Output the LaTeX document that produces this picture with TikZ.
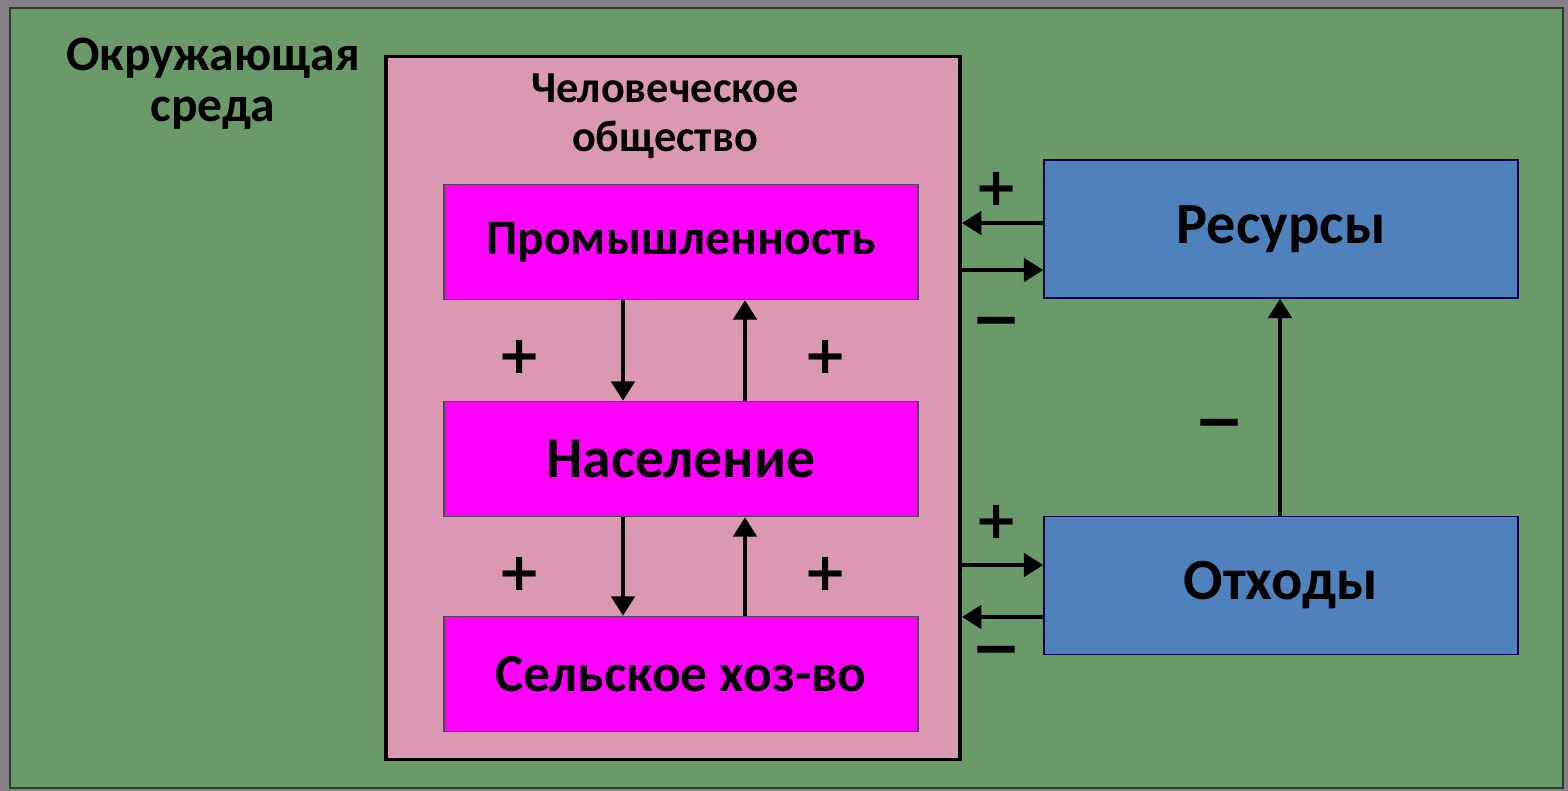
\documentclass[tikz,border=0pt]{standalone}
\usepackage{fontspec}
\setmainfont{Carlito}
\newfontfamily\znakfont{DejaVu Sans}
\usetikzlibrary{arrows.meta}
\definecolor{ramka}{RGB}{134,128,134}
\definecolor{zelen}{RGB}{106,154,106}
\definecolor{rozov}{RGB}{218,152,178}
\definecolor{sinij}{RGB}{79,129,189}
\definecolor{fiolet}{RGB}{255,0,255}
\tikzstyle{otrasl}=[rectangle, draw=black!70, fill=fiolet, minimum width=47.4mm, minimum height=11.5mm, inner sep=0pt]
\tikzstyle{resurs}=[rectangle, draw=black!70!blue, fill=sinij, minimum width=47.4mm, minimum height=13.8mm, inner sep=0pt, font=\fontsize{16.6}{18}\bfseries]
\tikzstyle{znak}=[inner sep=0pt, font=\znakfont\fontsize{15}{16}\bfseries]
\tikzstyle{minus}=[znak, font=\znakfont\fontsize{17}{18}\bfseries]
\tikzstyle{potok}=[-{Triangle[length=5.5pt, width=6.5pt]}, line width=1.4pt]
\newcommand{\otrasl}{\node[otrasl]}
\newcommand{\resurs}{\node[resurs]}
\newcommand{\znak}{\node[znak]}
\newcommand{\minus}{\node[minus]}

\begin{document}
\begin{tikzpicture}[x=0.1mm, y=-0.1mm]
\useasboundingbox (0,0) rectangle (1568,791);
\fill[ramka] (0,0) rectangle (1568,791);
\filldraw[fill=zelen, draw=black!60!zelen, line width=0.4pt] (10,8) rectangle (1563,788);
\node[align=center, font=\fontsize{14.1}{14.5}\bfseries] (sreda) at (213,84) {Окружающая\\среда};

% chelovecheskoe obshchestvo
\node[draw, line width=1.1pt, fill=rozov, minimum width=57.4mm, minimum height=70.3mm] (obsh) at (673,408) {};
\node[align=center, font=\fontsize{12.6}{14}\bfseries] (obshtxt) at (665,116) {Человеческое\\общество};
\otrasl (prom) at (681,242) {\fontsize{14.1}{16}\bfseries Промышленность};
\otrasl (nasel) at (681,459) {\fontsize{16.4}{18}\bfseries Население};
\otrasl (selh) at (681,674) {\fontsize{15.2}{16}\bfseries Сельское хоз-во};

\resurs (res) at (1281,229) {Ресурсы};
\resurs (oth) at (1281,585.5) {Отходы};

\coordinate (vniz) at (623,0);
\coordinate (vverh) at (745,0);
\coordinate (r1) at (0,223);
\coordinate (r2) at (0,270);
\coordinate (o1) at (0,565);
\coordinate (o2) at (0,617);
\coordinate (vert) at (1280,0);

\draw[potok] (prom.south -| vniz) -- (nasel.north -| vniz);
\draw[potok] (nasel.north -| vverh) -- (prom.south -| vverh);
\draw[potok] (nasel.south -| vniz) -- (selh.north -| vniz);
\draw[potok] (selh.north -| vverh) -- (nasel.south -| vverh);
\draw[potok] (res.west |- r1) -- (obsh.east |- r1);
\draw[potok] (obsh.east |- r2) -- (res.west |- r2);
\draw[potok] (obsh.east |- o1) -- (oth.west |- o1);
\draw[potok] (oth.west |- o2) -- (obsh.east |- o2);
\draw[potok] (oth.north -| vert) -- (res.south -| vert);

\znak (p1) at (520,357) {+};
\znak (p2) at (826,357) {+};
\znak (p3) at (520,574) {+};
\znak (p4) at (826,574) {+};
\znak (p5) at (997,189) {+};
\znak (p6) at (997,522) {+};
\minus (m5) at (997,328) {−};
\minus (m6) at (997,657) {−};
\minus (m7) at (1220,430) {−};
\end{tikzpicture}
\end{document}
